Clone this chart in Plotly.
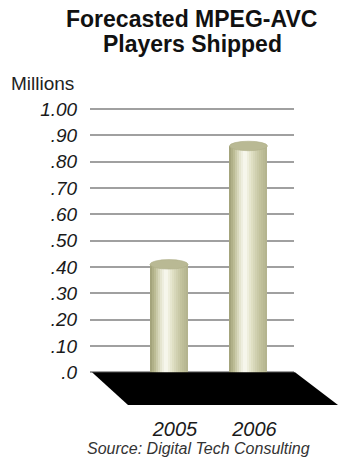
import math
import plotly.graph_objects as go

# ---------------- data ----------------
years = ["2005", "2006"]
shipments_millions = [0.41, 0.86]
ytick_vals = [0.0, 0.1, 0.2, 0.3, 0.4, 0.5, 0.6, 0.7, 0.8, 0.9, 1.0]
ytick_text = [".0", ".10", ".20", ".30", ".40", ".50", ".60", ".70", ".80", ".90", "1.00"]
title_lines = ["Forecasted MPEG-AVC", "Players Shipped"]
unit_text = "Millions"
source_text = "Source: Digital Tech Consulting"

# ---------------- layout constants ----------------
W, H = 338, 464
M_T, M_B = 96, 55
Y_RANGE = [-0.14, 1.05]
PLOT_H = H - M_T - M_B
PX_Y = PLOT_H / (Y_RANGE[1] - Y_RANGE[0])
X2_RANGE = [-2.126, 2.126]
PX_X = W / (X2_RANGE[1] - X2_RANGE[0])


def px_to_x2(px):
    return X2_RANGE[0] + px / PX_X


def py_to_y(py):
    return Y_RANGE[1] - (py - M_T) / PX_Y


def py_to_paper(py):
    return (H - M_B - py) / PLOT_H


BAR_W = 38 / PX_X            # cylinder diameter in x2 units
FOOT = 20 / PX_Y             # cylinder base sits in front of the back wall
ELL_H = 9.5 / PX_Y           # ellipse height (perspective)

xpos = list(range(len(years)))

fig = go.Figure()

# invisible trace to anchor the back wall axes (gridlines + tick labels)
fig.add_trace(go.Scatter(x=[0, 1], y=[0, 1], mode="markers", marker=dict(opacity=0),
                         xaxis="x", yaxis="y", hoverinfo="skip", showlegend=False))

# black floor
fx = [px_to_x2(92), px_to_x2(295), px_to_x2(338), px_to_x2(128), px_to_x2(92)]
fy = [0, 0, py_to_y(405), py_to_y(405), 0]
fig.add_trace(go.Scatter(x=fx, y=fy, mode="lines", fill="toself", fillcolor="#000000",
                         line=dict(color="#000000", width=0), xaxis="x2", yaxis="y2",
                         hoverinfo="skip", showlegend=False))

# cylinder shading
stops = [(0.0, (158, 158, 118)), (0.12, (185, 185, 145)), (0.3, (232, 232, 212)),
         (0.42, (250, 250, 242)), (0.58, (226, 226, 200)), (0.8, (196, 196, 160)),
         (1.0, (178, 178, 140))]


def shade(t):
    for (a, ca), (b, cb) in zip(stops[:-1], stops[1:]):
        if a <= t <= b:
            f = (t - a) / (b - a)
            c = [round(ca[i] + (cb[i] - ca[i]) * f) for i in range(3)]
            return "rgb(%d,%d,%d)" % tuple(c)
    return "rgb(%d,%d,%d)" % stops[-1][1]


N = 19
n = len(years)
for k in range(N):
    t0 = k / N
    t1 = min((k + 1.7) / N, 1.0)
    tc = (k + 0.5) / N
    curve = (ELL_H / 2) * math.sqrt(max(0.0, 1 - (2 * tc - 1) ** 2))
    foot = FOOT + curve
    fig.add_trace(go.Bar(
        x=xpos + xpos,
        y=shipments_millions + [foot] * n,
        base=[0] * n + [-foot] * n,
        offset=-BAR_W / 2 + t0 * BAR_W,
        width=(t1 - t0) * BAR_W,
        marker=dict(color=shade(tc), line=dict(width=0)),
        xaxis="x2", yaxis="y2", hoverinfo="skip", showlegend=False,
    ))

# top ellipses of cylinders
shapes = []
for i, v in zip(xpos, shipments_millions):
    shapes.append(dict(type="circle", xref="x2", yref="y2",
                       x0=i - BAR_W / 2, x1=i + BAR_W / 2,
                       y0=v - ELL_H / 2, y1=v + ELL_H / 2,
                       fillcolor="#b9b994", line=dict(color="#aeae88", width=0.6)))

annotations = [
    dict(text=title_lines[0], xref="paper", yref="paper", x=191 / W, y=py_to_paper(18.5),
         xanchor="center", yanchor="middle", showarrow=False,
         font=dict(family="Liberation Sans", size=23, color="#111111", weight="bold")),
    dict(text=title_lines[1], xref="paper", yref="paper", x=192 / W, y=py_to_paper(44),
         xanchor="center", yanchor="middle", showarrow=False,
         font=dict(family="Liberation Sans", size=23, color="#111111", weight="bold")),
    dict(text=unit_text, xref="paper", yref="paper", x=9 / W, y=py_to_paper(84),
         xanchor="left", yanchor="middle", showarrow=False,
         font=dict(family="Liberation Sans", size=19, color="#222222")),
    dict(text=source_text, xref="paper", yref="paper", x=198 / W, y=py_to_paper(448),
         xanchor="center", yanchor="middle", showarrow=False,
         font=dict(family="Liberation Sans", size=16, color="#333333", style="italic")),
]

fig.update_layout(
    width=W, height=H,
    margin=dict(l=0, r=0, t=M_T, b=M_B, pad=0),
    paper_bgcolor="white", plot_bgcolor="rgba(0,0,0,0)",
    barmode="overlay", bargap=0,
    showlegend=False,
    xaxis=dict(domain=[90 / W, 294 / W], range=[0, 1], visible=False, anchor="y",
               automargin=False),
    yaxis=dict(domain=[0, 1], range=Y_RANGE, anchor="x", automargin=False,
               tickvals=ytick_vals, ticktext=ytick_text,
               ticks="outside", ticklen=8, tickcolor="rgba(0,0,0,0)",
               tickfont=dict(family="Liberation Sans", size=19, color="#1a1a1a", style="italic"),
               showgrid=True, gridcolor="#a0a0a0", gridwidth=1.6,
               zeroline=False, showline=False),
    xaxis2=dict(domain=[0, 1], range=X2_RANGE, anchor="y2", automargin=False,
                tickvals=xpos, ticktext=years, ticks="", ticklabelshift=6,
                ticklabelstandoff=6,
                tickfont=dict(family="Liberation Sans", size=20, color="#1a1a1a", style="italic"),
                showgrid=False, zeroline=False, showline=False),
    yaxis2=dict(domain=[0, 1], range=Y_RANGE, anchor="x2", visible=False,
                showgrid=False, zeroline=False, automargin=False),
    shapes=shapes,
    annotations=annotations,
)

fig.write_html("out.html", config={"displayModeBar": False},
               post_script="document.body.style.margin='0';document.body.style.padding='0';")
